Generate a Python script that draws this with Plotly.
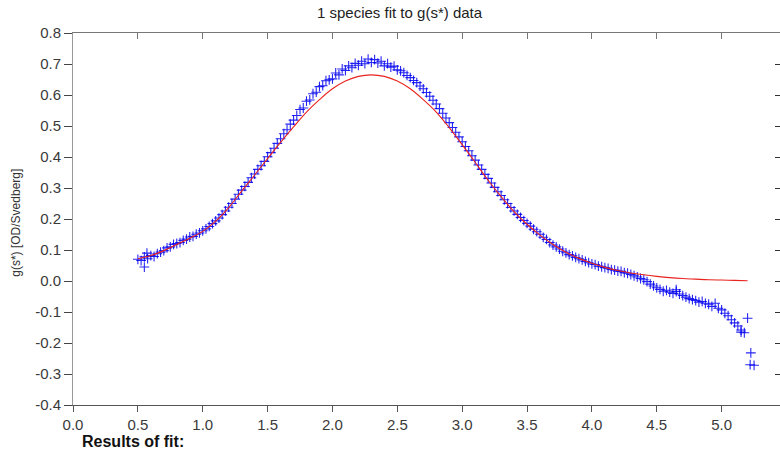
import plotly.graph_objects as go

# ---- data ----
s_data = [0.500, 0.525, 0.550, 0.575, 0.600, 0.625, 0.650, 0.675, 0.700, 0.725,
          0.750, 0.775, 0.800, 0.825, 0.850, 0.875, 0.900, 0.925, 0.950, 0.975,
          1.000, 1.025, 1.050, 1.075, 1.100, 1.125, 1.150, 1.175, 1.200, 1.225,
          1.250, 1.275, 1.300, 1.325, 1.350, 1.375, 1.400, 1.425, 1.450, 1.475,
          1.500, 1.525, 1.550, 1.575, 1.600, 1.625, 1.650, 1.675, 1.700, 1.725,
          1.750, 1.775, 1.800, 1.825, 1.850, 1.875, 1.900, 1.925, 1.950, 1.975,
          2.000, 2.025, 2.050, 2.075, 2.100, 2.125, 2.150, 2.175, 2.200, 2.225,
          2.250, 2.275, 2.300, 2.325, 2.350, 2.375, 2.400, 2.425, 2.450, 2.475,
          2.500, 2.525, 2.550, 2.575, 2.600, 2.625, 2.650, 2.675, 2.700, 2.725,
          2.750, 2.775, 2.800, 2.825, 2.850, 2.875, 2.900, 2.925, 2.950, 2.975,
          3.000, 3.025, 3.050, 3.075, 3.100, 3.125, 3.150, 3.175, 3.200, 3.225,
          3.250, 3.275, 3.300, 3.325, 3.350, 3.375, 3.400, 3.425, 3.450, 3.475,
          3.500, 3.525, 3.550, 3.575, 3.600, 3.625, 3.650, 3.675, 3.700, 3.725,
          3.750, 3.775, 3.800, 3.825, 3.850, 3.875, 3.900, 3.925, 3.950, 3.975,
          4.000, 4.025, 4.050, 4.075, 4.100, 4.125, 4.150, 4.175, 4.200, 4.225,
          4.250, 4.275, 4.300, 4.325, 4.350, 4.375, 4.400, 4.425, 4.450, 4.475,
          4.500, 4.525, 4.550, 4.575, 4.600, 4.625, 4.650, 4.675, 4.700, 4.725,
          4.750, 4.775, 4.800, 4.825, 4.850, 4.875, 4.900, 4.925, 4.950, 4.975,
          5.000, 5.025, 5.050, 5.075, 5.100, 5.125, 5.150, 5.175, 5.200, 5.225,
          5.250,
          0.550, 0.570, 4.650, 5.150, 5.220]
g_data = [0.070, 0.066, 0.078, 0.072, 0.082, 0.079, 0.088, 0.093, 0.098, 0.107,
          0.110, 0.118, 0.121, 0.124, 0.131, 0.135, 0.142, 0.144, 0.151, 0.155,
          0.162, 0.168, 0.176, 0.185, 0.194, 0.203, 0.214, 0.226, 0.238, 0.250,
          0.264, 0.280, 0.293, 0.305, 0.318, 0.333, 0.345, 0.360, 0.372, 0.386,
          0.401, 0.414, 0.428, 0.444, 0.459, 0.475, 0.488, 0.506, 0.519, 0.534,
          0.553, 0.558, 0.580, 0.584, 0.604, 0.609, 0.627, 0.630, 0.646, 0.649,
          0.652, 0.671, 0.665, 0.684, 0.679, 0.694, 0.688, 0.702, 0.696, 0.709,
          0.701, 0.716, 0.705, 0.714, 0.703, 0.709, 0.694, 0.701, 0.690, 0.693,
          0.681, 0.678, 0.672, 0.663, 0.656, 0.647, 0.640, 0.629, 0.620, 0.608,
          0.596, 0.583, 0.571, 0.556, 0.541, 0.526, 0.511, 0.495, 0.480, 0.465,
          0.449, 0.434, 0.420, 0.404, 0.390, 0.374, 0.360, 0.344, 0.331, 0.316,
          0.302, 0.288, 0.276, 0.262, 0.250, 0.237, 0.226, 0.215, 0.205, 0.195,
          0.186, 0.177, 0.167, 0.159, 0.151, 0.141, 0.134, 0.124, 0.116, 0.110,
          0.103, 0.096, 0.091, 0.085, 0.081, 0.076, 0.072, 0.068, 0.063, 0.059,
          0.055, 0.053, 0.048, 0.046, 0.043, 0.041, 0.037, 0.035, 0.032, 0.031,
          0.027, 0.025, 0.021, 0.017, 0.013, 0.008, 0.004, -0.002, -0.010, -0.016,
          -0.022, -0.027, -0.033, -0.030, -0.036, -0.040, -0.034, -0.042, -0.047, -0.052,
          -0.057, -0.060, -0.063, -0.068, -0.066, -0.072, -0.075, -0.082, -0.072, -0.088,
          -0.093, -0.104, -0.112, -0.125, -0.135, -0.145, -0.158, -0.167, -0.120, -0.232,
          -0.272,
          0.045, 0.090, -0.028, -0.165, -0.270]

s_fit = [0.5, 0.6, 0.7, 0.8, 0.9, 1.0, 1.1, 1.2, 1.3, 1.4, 1.5, 1.6, 1.7, 1.8,
         1.9, 2.0, 2.1, 2.2, 2.3, 2.4, 2.5, 2.6, 2.7, 2.8, 2.9, 3.0, 3.1, 3.2,
         3.3, 3.4, 3.5, 3.6, 3.7, 3.8, 3.9, 4.0, 4.1, 4.2, 4.3, 4.4, 4.5, 4.6,
         4.7, 4.8, 4.9, 5.0, 5.1, 5.2]
g_fit = [0.072, 0.082, 0.098, 0.118, 0.138, 0.160, 0.193, 0.237, 0.290, 0.342,
         0.395, 0.447, 0.497, 0.545, 0.585, 0.620, 0.645, 0.660, 0.665, 0.660,
         0.645, 0.620, 0.585, 0.545, 0.495, 0.440, 0.383, 0.325, 0.272, 0.224,
         0.183, 0.148, 0.118, 0.093, 0.073, 0.057, 0.044, 0.034, 0.026, 0.020,
         0.015, 0.011, 0.008, 0.006, 0.004, 0.003, 0.002, 0.001]

x_ticks = [0.0, 0.5, 1.0, 1.5, 2.0, 2.5, 3.0, 3.5, 4.0, 4.5, 5.0]
x_tick_labels = ["0.0", "0.5", "1.0", "1.5", "2.0", "2.5", "3.0", "3.5", "4.0", "4.5", "5.0"]
y_ticks = [-0.4, -0.3, -0.2, -0.1, 0.0, 0.1, 0.2, 0.3, 0.4, 0.5, 0.6, 0.7, 0.8]
y_tick_labels = ["-0.4", "-0.3", "-0.2", "-0.1", "0.0", "0.1", "0.2", "0.3",
                 "0.4", "0.5", "0.6", "0.7", "0.8"]

title_text = "1 species fit to g(s*) data"
y_title = "g(s*) [OD/Svedberg]"
footer_text = "Results of fit:"

X_RANGE = [0, 5.45]
Y_RANGE = [-0.4, 0.8]
FONT = "Liberation Sans, Arial, sans-serif"

fig = go.Figure()
fig.add_trace(go.Scatter(
    x=s_data, y=g_data, mode="markers",
    marker=dict(symbol="cross-thin", size=7, color="rgba(0,0,240,0.85)",
                line=dict(width=1.1, color="rgba(0,0,240,0.85)")),
    showlegend=False, hoverinfo="skip"))
fig.add_trace(go.Scatter(
    x=s_fit, y=g_fit, mode="lines", line=dict(color="#e8231e", width=1.1, shape="spline"),
    showlegend=False, hoverinfo="skip"))
# transparent copy of the fit on the mirrored (top/right) axes so they get drawn
fig.add_trace(go.Scatter(x=s_fit, y=g_fit, xaxis="x2", yaxis="y2", mode="lines",
                         line=dict(color="rgba(0,0,0,0)", width=0),
                         showlegend=False, hoverinfo="skip"))

tickfont = dict(family=FONT, size=15, color="#3a3a3a")

fig.update_layout(
    width=780, height=452,
    margin=dict(l=73, r=0, t=33, b=47),
    paper_bgcolor="white", plot_bgcolor="white",
    font=dict(family=FONT),
    xaxis=dict(range=X_RANGE, tickvals=x_ticks, ticktext=x_tick_labels,
               showgrid=False, zeroline=False, showline=True, linecolor="#555",
               linewidth=1, ticks="outside", ticklen=6, tickcolor="#555",
               tickfont=tickfont, mirror=True),
    yaxis=dict(range=Y_RANGE, tickvals=y_ticks, ticktext=y_tick_labels,
               showgrid=False, zeroline=False, showline=True, linecolor="#999",
               linewidth=1, ticks="outside", ticklen=8, tickcolor="#444",
               tickfont=tickfont),
    xaxis2=dict(range=X_RANGE, overlaying="x", side="top", anchor="y",
                tickvals=x_ticks, showticklabels=False, showgrid=False,
                zeroline=False, showline=True, linecolor="#777", ticks="inside",
                ticklen=6, tickcolor="#777"),
    yaxis2=dict(range=Y_RANGE, overlaying="y", side="right", anchor="x",
                tickvals=y_ticks, showticklabels=False, showgrid=False,
                zeroline=False, showline=False, ticks="inside", ticklen=5,
                tickcolor="#333"),
    annotations=[
        dict(text=title_text, xref="paper", yref="paper", x=0.4625, y=1,
             yshift=21, xanchor="center", yanchor="middle", showarrow=False,
             font=dict(family=FONT, size=15, color="#222")),
        dict(text=y_title, xref="paper", yref="paper", x=0, xshift=-57,
             y=0.49, xanchor="center", yanchor="middle", textangle=-90,
             showarrow=False, font=dict(family=FONT, size=12, color="#333")),
        dict(text="<b>" + footer_text + "</b>", xref="paper", yref="paper",
             x=0, xshift=7, y=0, yshift=-36, xanchor="left", yanchor="middle",
             showarrow=False, font=dict(family=FONT, size=16, color="#111")),
    ],
)

fig.write_html("out.html", config={"displayModeBar": False},
               post_script="document.body.style.margin='0';document.body.style.overflow='hidden';")
